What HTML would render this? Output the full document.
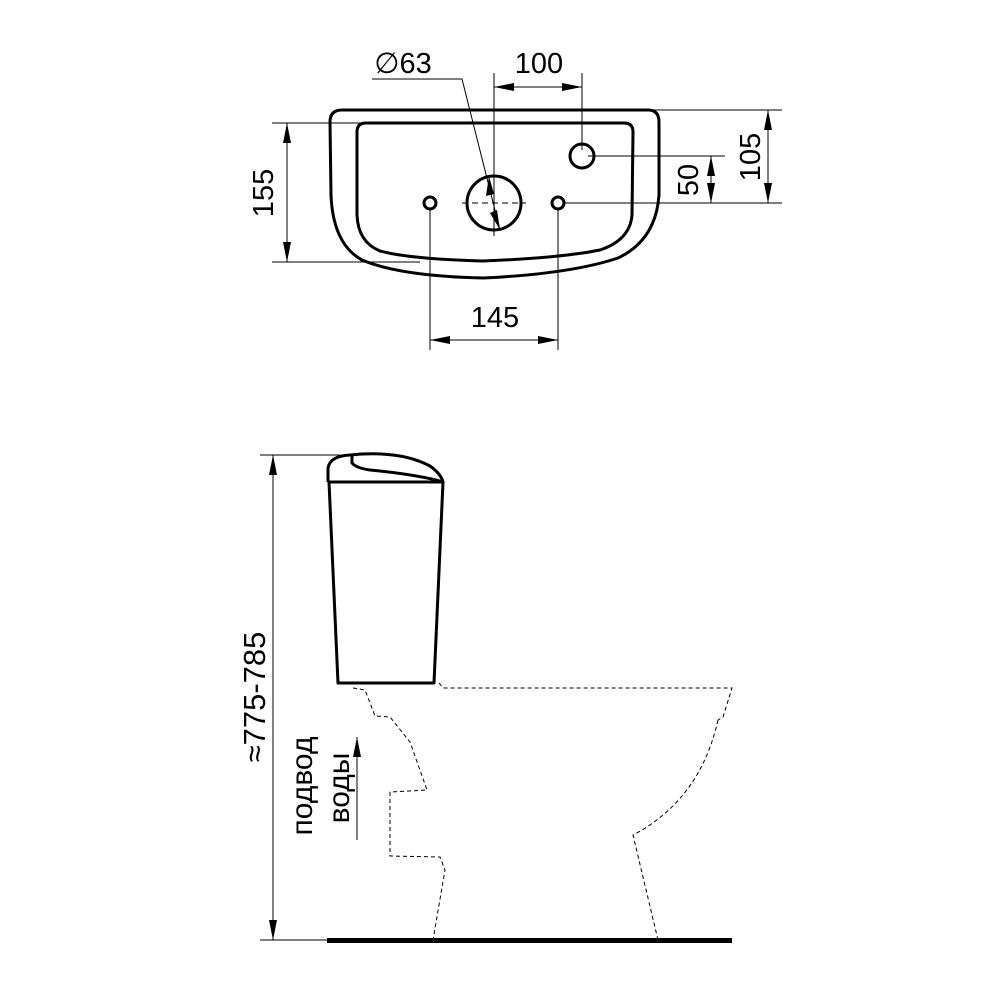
<!DOCTYPE html>
<html><head><meta charset="utf-8"><style>html,body{margin:0;padding:0;background:#fff}svg{display:block}</style></head>
<body>
<svg width="1000" height="1000" viewBox="0 0 1000 1000" xmlns="http://www.w3.org/2000/svg" font-family="Liberation Sans, sans-serif">
<defs>
<marker id="a" viewBox="0 0 20 8" refX="20" refY="4" markerWidth="20" markerHeight="8" orient="auto-start-reverse" markerUnits="userSpaceOnUse"><path d="M0 0 L20 4 L0 8 Z" fill="#000"/></marker>
</defs>
<g fill="none" stroke="#000" stroke-width="3">
<path d="M342 110 L648 110 Q659 110 659 122 L659 195 Q656 240 618 258 Q570 274 483 278 Q400 276 362 260 Q333 244 331 195 L330 122 Q330 110 342 110 Z"/>
<path d="M366 123 L624 123 Q633 123 633 132 L632 215 Q630 240 600 250 Q560 258 483 261 Q410 259 380 251 Q358 242 357 215 L357 132 Q357 123 366 123 Z"/>
<circle cx="582" cy="156" r="12"/>
<circle cx="494" cy="203" r="27"/>
<circle cx="430" cy="203" r="6"/>
<circle cx="558" cy="203" r="6"/>
</g>
<g fill="none" stroke="#000" stroke-width="1">
<line x1="462" y1="203" x2="526" y2="203" stroke-dasharray="6,4"/>
<line x1="494" y1="73" x2="494" y2="236"/>
<line x1="582" y1="73" x2="582" y2="150"/>
<line x1="494" y1="87" x2="582" y2="87" marker-start="url(#a)" marker-end="url(#a)"/>
<line x1="430" y1="210" x2="430" y2="350"/>
<line x1="558" y1="210" x2="558" y2="350"/>
<line x1="430" y1="340" x2="558" y2="340" marker-start="url(#a)" marker-end="url(#a)"/>
<line x1="272" y1="123" x2="370" y2="123"/>
<line x1="272" y1="262" x2="420" y2="262"/>
<line x1="287" y1="123" x2="287" y2="262" marker-start="url(#a)" marker-end="url(#a)"/>
<line x1="640" y1="110" x2="782" y2="110"/>
<line x1="588" y1="156" x2="725" y2="156"/>
<line x1="564" y1="203" x2="782" y2="203"/>
<line x1="768" y1="110" x2="768" y2="203" marker-start="url(#a)" marker-end="url(#a)"/>
<line x1="711" y1="156" x2="711" y2="203" marker-start="url(#a)" marker-end="url(#a)"/>
<polyline points="372,79 462,79 500,230"/>
</g>
<path d="M489 176 L486 196 L494 194 Z M500 230 L497 210 L490 213 Z" fill="#000"/>
<g font-size="29" fill="#000" text-anchor="middle">
<text x="403" y="73">∅63</text>
<text x="539" y="73">100</text>
<text x="495" y="327">145</text>
<text transform="translate(273 193) rotate(-90)">155</text>
<text transform="translate(760 157) rotate(-90)">105</text>
<text transform="translate(698 180) rotate(-90)">50</text>
</g>
<g fill="none" stroke="#000" stroke-width="3" stroke-linejoin="round">
<path d="M329 482 L338 683 L434 683 L443 482 Z"/>
<path d="M328 482 L328 468 Q330 456 350 455 Q400 450 430 466 Q441 474 443 482"/>
<path d="M352 455 L352 463 Q356 468 370 470 Q420 475 443 482"/>
</g>
<g fill="none" stroke="#000" stroke-width="1" stroke-dasharray="4,3">
<polyline points="353,688 365,690 375,716 390,717 410,742 427,790 390,792 390,856 440,857 445,870 433,940"/>
<polyline points="439,683 443,688 732,688 723,717 718,720"/>
<path d="M718 720 Q700 800 633 835 L658 940"/>
</g>
<rect x="327" y="938" width="405" height="5" fill="#000"/>
<g stroke="#000" stroke-width="1" fill="none">
<line x1="260" y1="455" x2="340" y2="455"/>
<line x1="260" y1="940" x2="327" y2="940"/>
<line x1="273" y1="455" x2="273" y2="940" marker-start="url(#a)" marker-end="url(#a)"/>
<line x1="357" y1="840" x2="357" y2="737" marker-end="url(#a)"/>
</g>
<g font-size="30" fill="#000" text-anchor="middle">
<text transform="translate(265 697) rotate(-90)" font-size="31">≈775-785</text>
<text transform="translate(312 786) rotate(-90)">подвод</text>
<text transform="translate(349 788) rotate(-90)">воды</text>
</g>
</svg>
</body></html>
